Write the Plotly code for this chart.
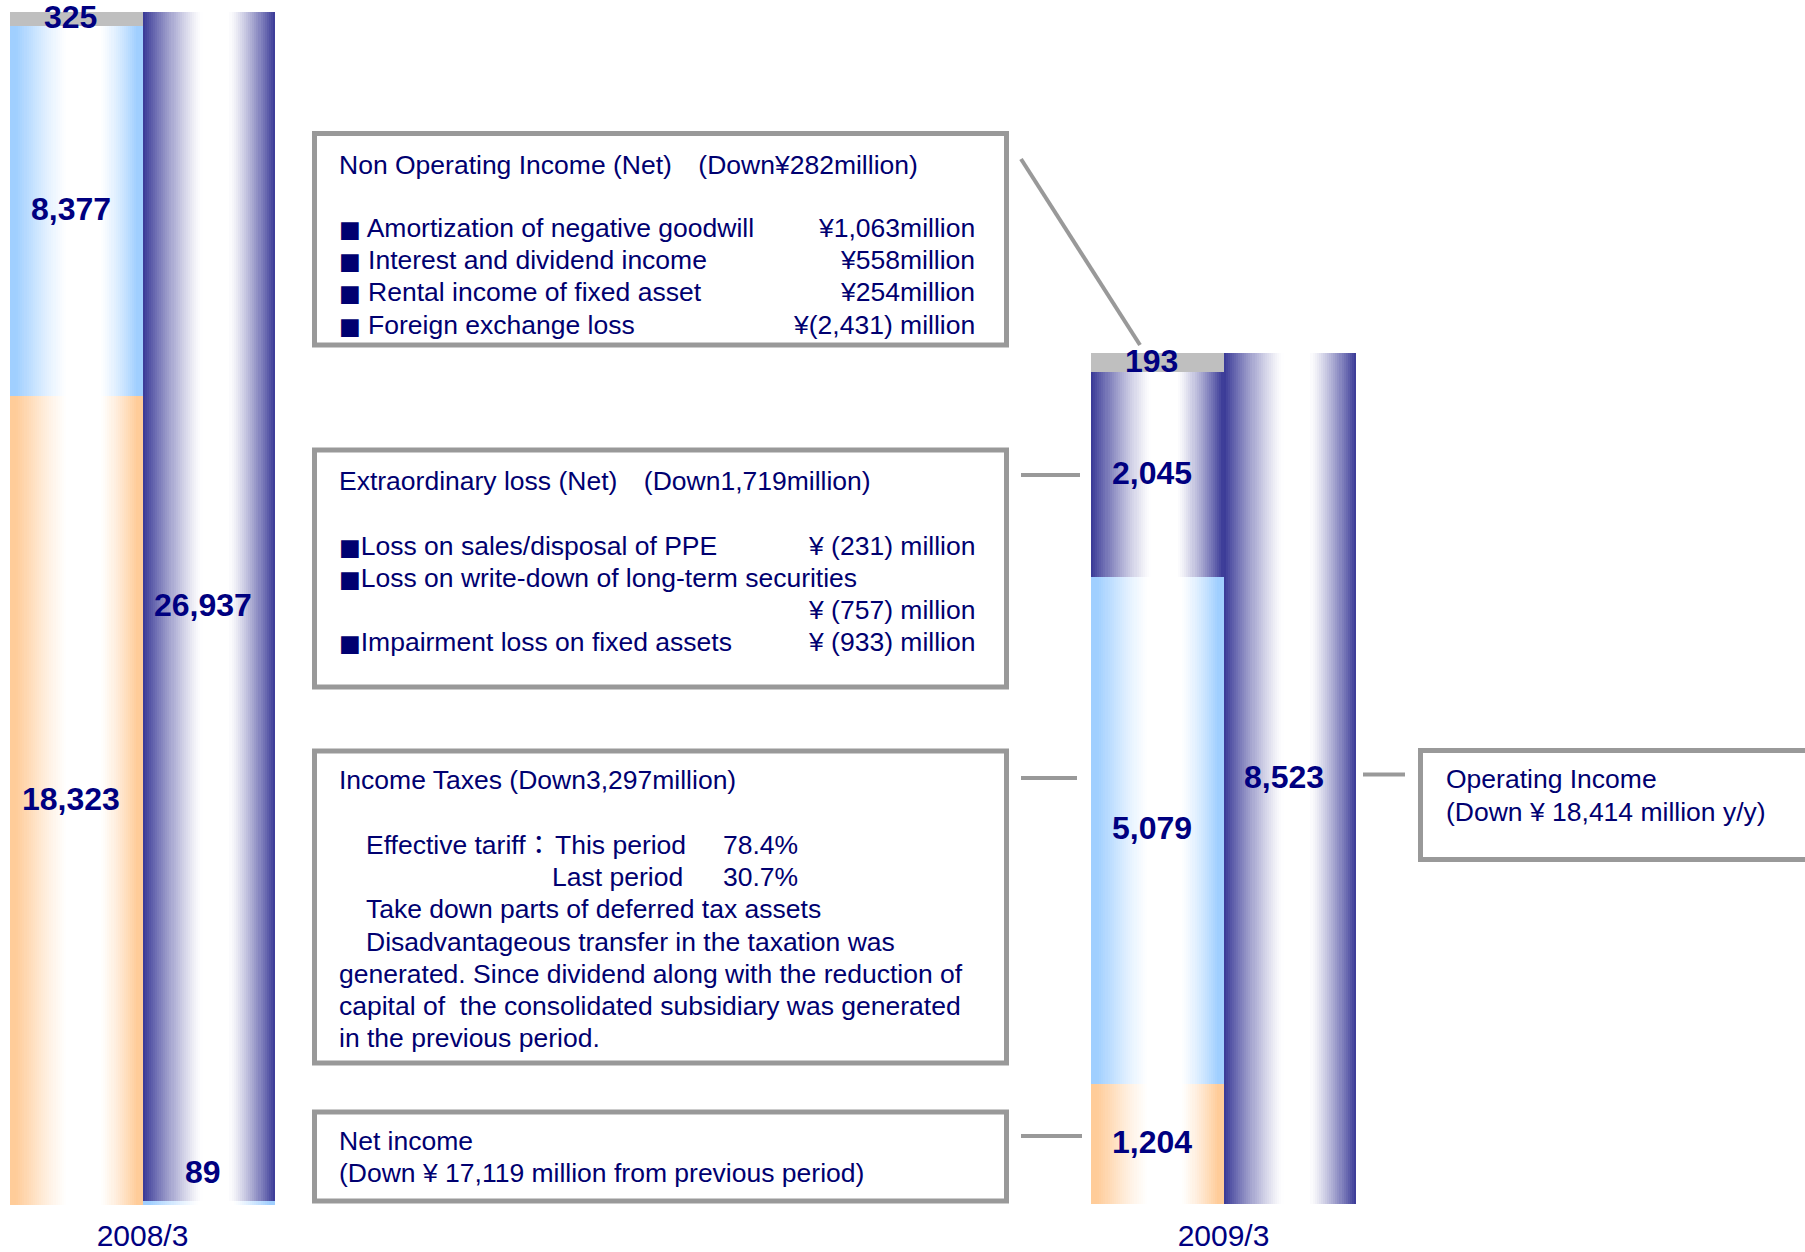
import plotly.graph_objects as go

W, H = 1805, 1252

periods = ["2008/3", "2009/3"]

# Income breakdown (JPY million)
# left stack of each period, bottom to top
net_income = [18323, 1204]
income_taxes = [8377, 5079]
extraordinary_loss = [0, 2045]
non_operating_income = [325, 193]
# right stack of each period, bottom to top
other_items = [89, 0]
operating_income = [26937, 8523]

stacks = [
    [(net_income, "peach"), (income_taxes, "sky"),
     (extraordinary_loss, "navy"), (non_operating_income, "silver")],
    [(other_items, "sky"), (operating_income, "navy")],
]

BASE_RGB = {
    "peach": (255, 204, 153),
    "sky": (160, 207, 255),
    "navy": (56, 56, 150),
    "silver": (191, 191, 191),
}
# horizontal highlight profile: (rise start, rise end), (fall start, fall end)
PROFILE = {
    "peach": ((0.05, 0.43), (0.68, 0.96)),
    "sky": ((0.05, 0.43), (0.68, 0.96)),
    "navy": ((0.0, 0.45), (0.65, 1.0)),
    "silver": None,
}

LABEL_COLOR = "#000080"
TEXT_COLOR = "#000070"
BORDER = "#999999"
FONT = "Liberation Sans, Arial, Noto Sans CJK JP, sans-serif"
TEXT_SIZE = 26.5
BULLET = "<span style='font-family:DejaVu Sans;font-size:23px'>■</span>"

# pixel placement of the two period groups
group_x = [(10, 275), (1091, 1356)]
group_y = [(1205, 12), (1204, 353)]  # (bottom row, top row)
tick_standoff = [10, 11]


def fx(px):
    return px / W


def fy(py):
    return 1 - py / H


def ramp(u):
    u = min(max(u, 0.0), 1.0)
    return 1 - (1 - u) ** 1.25


def highlight(t, prof):
    if prof is None:
        return 0.0
    (a0, a1), (b0, b1) = prof
    if t <= a1:
        return ramp((t - a0) / (a1 - a0))
    if t < b0:
        return 1.0
    return ramp((b1 - t) / (b1 - b0))


def shade(kind, t):
    w = highlight(t, PROFILE[kind])
    r, g, b = (round(c + (255 - c) * w) for c in BASE_RGB[kind])
    return f"rgb({r},{g},{b})"


fig = go.Figure()
N = 64
annotations = []

for gi in range(len(periods)):
    xa = "x" if gi == 0 else f"x{gi + 1}"
    ya = "y" if gi == 0 else f"y{gi + 1}"
    xs, bases, vals, kinds = [], [], [], []
    totals = []
    for pos, stack in enumerate(stacks):
        base = 0
        for series, kind in stack:
            v = series[gi]
            if v:
                xs.append(pos)
                bases.append(base)
                vals.append(v)
                kinds.append(kind)
                base += v
        totals.append(base)

    # each bar is drawn as thin vertical slices to give the cylinder shading
    for k in range(N):
        t = (k + 0.5) / N
        fig.add_trace(go.Bar(
            x=xs, y=vals, base=bases,
            offset=-0.5 + k / N, width=min(1.8 / N, 1 - k / N),
            marker=dict(color=[shade(kd, t) for kd in kinds], line=dict(width=0)),
            xaxis=xa, yaxis=ya, showlegend=False, hoverinfo="skip",
        ))

    # value labels
    for x, b, v in zip(xs, bases, vals):
        shift = 2
        if v < 0.01 * max(totals):
            shift = 31 if x == 1 else 1
        annotations.append(dict(
            x=x - 0.04, y=b + v / 2, xref=xa, yref=ya, text=f"{v:,}",
            showarrow=False, yshift=shift,
            font=dict(family=FONT, size=32, color=LABEL_COLOR, weight="bold"),
        ))

    axis_key = "" if gi == 0 else str(gi + 1)
    (x0, x1), (yb, yt) = group_x[gi], group_y[gi]
    fig.update_layout(**{
        f"xaxis{axis_key}": dict(
            domain=[fx(x0), fx(x1)], range=[-0.5, 1.5], anchor=ya,
            showgrid=False, zeroline=False, showline=False, ticks="",
            automargin=False,
            tickvals=[0.5], ticktext=[periods[gi]],
            ticklabelstandoff=tick_standoff[gi],
            tickfont=dict(family=FONT, size=30, color=LABEL_COLOR),
        ),
        f"yaxis{axis_key}": dict(
            domain=[fy(yb), fy(yt)], range=[0, max(totals)], anchor=xa,
            visible=False, showgrid=False, zeroline=False, automargin=False,
        ),
    })

# commentary boxes: (left, top, right, bottom) in pixels
boxes = [
    (314.5, 133.5, 1006.5, 345),
    (314.5, 450, 1006.5, 687),
    (314.5, 751, 1006.5, 1063),
    (314.5, 1112, 1006.5, 1201),
    (1420.5, 750.5, 1815, 859.5),
]
shapes = []
for (l, t, r, b) in boxes:
    shapes.append(dict(type="rect", xref="paper", yref="paper",
                       x0=fx(l), x1=fx(r), y0=fy(b), y1=fy(t),
                       line=dict(color=BORDER, width=5), fillcolor="rgba(0,0,0,0)"))

# leader lines
leaders = [
    ((1021, 159), (1140, 345)),
    ((1021, 475), (1080, 475)),
    ((1021, 778), (1077, 778)),
    ((1021, 1136), (1082, 1136)),
    ((1363, 774.5), (1405, 774.5)),
]
for (xa_, ya_), (xb_, yb_) in leaders:
    shapes.append(dict(type="line", xref="paper", yref="paper",
                       x0=fx(xa_), y0=fy(ya_), x1=fx(xb_), y1=fy(yb_),
                       line=dict(color=BORDER, width=4)))

# box texts: (x, y, anchor, text)
box_text = [
    (337, 164.6, "left", "Non Operating Income (Net)\u3000(Down¥282million)"),
    (337, 228, "left", BULLET + " Amortization of negative goodwill"),
    (337, 260.2, "left", BULLET + " Interest and dividend income"),
    (337, 292.4, "left", BULLET + " Rental income of fixed asset"),
    (337, 324.6, "left", BULLET + " Foreign exchange loss"),
    (977, 228, "right", "¥1,063million"),
    (977, 260.2, "right", "¥558million"),
    (977, 292.4, "right", "¥254million"),
    (977, 324.6, "right", "¥(2,431) million"),

    (337, 481.2, "left", "Extraordinary loss (Net)\u3000(Down1,719million)"),
    (337, 545.6, "left", BULLET + "Loss on sales/disposal of PPE"),
    (337, 577.9, "left", BULLET + "Loss on write-down of long-term securities"),
    (337, 642.3, "left", BULLET + "Impairment loss on fixed assets"),
    (977, 545.6, "right", "¥ (231) million"),
    (977, 610.1, "right", "¥ (757) million"),
    (977, 642.3, "right", "¥ (933) million"),

    (337, 780.4, "left", "Income Taxes (Down3,297million)"),
    (363.7, 845, "left", "Effective tariff："),
    (553, 845, "left", "This period"),
    (720.6, 845, "left", "78.4%"),
    (550, 877.2, "left", "Last period"),
    (720.6, 877.2, "left", "30.7%"),
    (363.7, 909.4, "left", "Take down parts of deferred tax assets"),
    (363.7, 941.6, "left", "Disadvantageous transfer in the taxation was"),
    (337, 973.8, "left", "generated. Since dividend along with the reduction of"),
    (337, 1006, "left", "capital of  the consolidated subsidiary was generated"),
    (337, 1038.3, "left", "in the previous period."),

    (337, 1140.7, "left", "Net income"),
    (337, 1173, "left", "(Down ¥ 17,119 million from previous period)"),

    (1443.5, 779.3, "left", "Operating Income"),
    (1443.5, 811.5, "left", "(Down ¥ 18,414 million y/y)"),
]
for x, y, anchor, txt in box_text:
    annotations.append(dict(
        x=fx(x), y=fy(y), xref="paper", yref="paper", xanchor=anchor,
        yanchor="middle", text=txt, showarrow=False,
        font=dict(family=FONT, size=TEXT_SIZE, color=TEXT_COLOR),
    ))

fig.update_layout(
    width=W, height=H,
    margin=dict(l=0, r=0, t=0, b=0, autoexpand=False),
    paper_bgcolor="white", plot_bgcolor="white",
    barmode="overlay", bargap=0,
    shapes=shapes, annotations=annotations,
    showlegend=False,
)

fig.write_html("out.html", config={"displayModeBar": False})
